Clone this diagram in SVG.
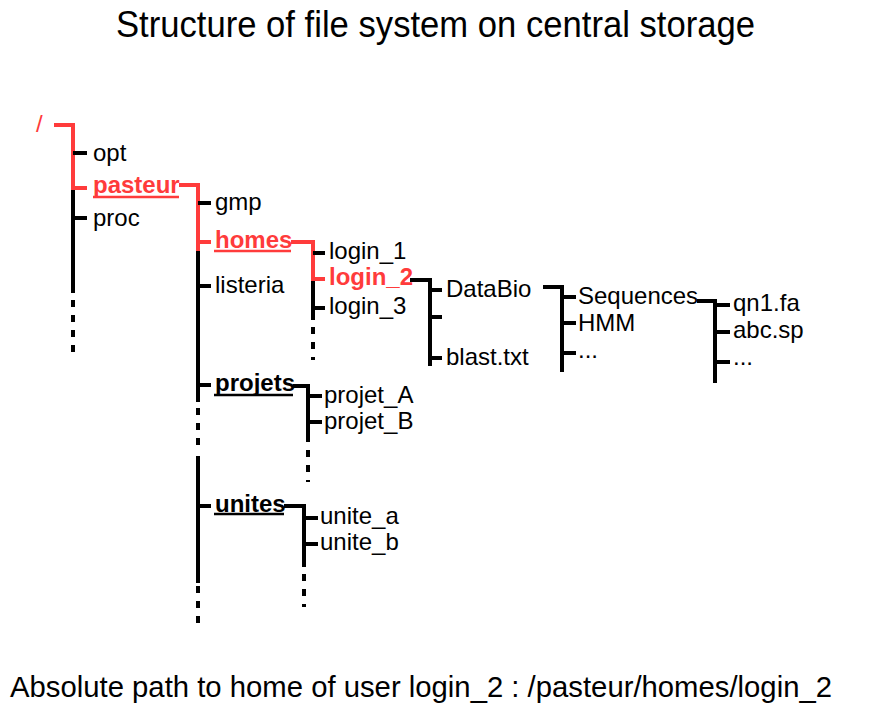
<svg xmlns="http://www.w3.org/2000/svg" width="874" height="709" viewBox="0 0 874 709">
<style>
text{font-family:"Liberation Sans",Arial,sans-serif;font-size:24px;fill:#000}
.b{font-weight:bold}
.r{fill:#ff3b3b}
.t{font-size:37px}
.f{font-size:30px}
.k{stroke:#000;stroke-width:4;fill:none}
.rd{stroke:#ff3b3b;stroke-width:4;fill:none}
.d{stroke:#000;stroke-width:4;fill:none;stroke-dasharray:7 8}
.u{stroke:#000;stroke-width:2.4}
.ur{stroke:#ff3b3b;stroke-width:2.4}
</style>
<rect width="874" height="709" fill="#fff"/>
<g id="title"><text class="t" x="116" y="37" textLength="639" lengthAdjust="spacingAndGlyphs">Structure of file system on central storage</text></g>
<g id="connectors">
<!-- root -->
<polyline class="rd" points="54,125 73,125 73,191"/>
<line class="k" x1="73" y1="190" x2="73" y2="293"/>
<line class="d" x1="73" y1="300" x2="73" y2="353"/>
<line class="k" x1="73" y1="153" x2="87" y2="153"/>
<line class="rd" x1="73" y1="188" x2="87" y2="188"/>
<line class="k" x1="73" y1="218" x2="87" y2="218"/>
<!-- pasteur -->
<polyline class="rd" points="179,185 198,185 198,252"/>
<line class="k" x1="198" y1="251" x2="198" y2="402"/>
<line class="d" x1="198" y1="408" x2="198" y2="448"/>
<line class="k" x1="198" y1="456" x2="198" y2="583"/>
<line class="d" x1="198" y1="586" x2="198" y2="624"/>
<line class="k" x1="198" y1="203" x2="211" y2="203"/>
<line class="rd" x1="198" y1="242" x2="211" y2="242"/>
<line class="k" x1="198" y1="286" x2="211" y2="286"/>
<line class="k" x1="198" y1="385" x2="211" y2="385"/>
<line class="k" x1="198" y1="506" x2="211" y2="506"/>
<!-- homes -->
<polyline class="rd" points="291,242 313,242 313,282"/>
<line class="k" x1="313" y1="281" x2="313" y2="320"/>
<line class="d" x1="313" y1="327" x2="313" y2="360"/>
<line class="k" x1="313" y1="253" x2="325" y2="253"/>
<line class="rd" x1="313" y1="279" x2="325" y2="279"/>
<line class="k" x1="313" y1="308" x2="325" y2="308"/>
<!-- login_2 -->
<polyline class="k" points="410,280 430,280 430,366"/>
<line class="k" x1="430" y1="290" x2="442" y2="290"/>
<line class="k" x1="430" y1="317" x2="442" y2="317"/>
<line class="k" x1="430" y1="358" x2="442" y2="358"/>
<!-- DataBio -->
<polyline class="k" points="543,287 562,287 562,372"/>
<line class="k" x1="562" y1="297" x2="576" y2="297"/>
<line class="k" x1="562" y1="323" x2="576" y2="323"/>
<line class="k" x1="562" y1="353" x2="576" y2="353"/>
<!-- Sequences -->
<polyline class="k" points="697,301 715,301 715,383"/>
<line class="k" x1="715" y1="305" x2="730" y2="305"/>
<line class="k" x1="715" y1="332" x2="730" y2="332"/>
<line class="k" x1="715" y1="362" x2="730" y2="362"/>
<!-- projets -->
<polyline class="k" points="293,386 308,386 308,442"/>
<line class="d" x1="308" y1="450" x2="308" y2="482"/>
<line class="k" x1="308" y1="396" x2="322" y2="396"/>
<line class="k" x1="308" y1="422" x2="322" y2="422"/>
<!-- unites -->
<polyline class="k" points="284,506 304,506 304,567"/>
<line class="d" x1="304" y1="574" x2="304" y2="607"/>
<line class="k" x1="304" y1="518" x2="318" y2="518"/>
<line class="k" x1="304" y1="544" x2="318" y2="544"/>
</g>
<g id="root"><text class="r" x="36" y="132">/</text></g>
<g id="opt"><text x="93" y="161">opt</text></g>
<g id="pasteur"><text class="b r" x="93" y="193">pasteur</text><line class="ur" x1="93" y1="197" x2="179" y2="197"/></g>
<g id="proc"><text x="93" y="226">proc</text></g>
<g id="gmp"><text x="215" y="210">gmp</text></g>
<g id="homes"><text class="b r" x="215" y="248">homes</text><line class="ur" x1="214" y1="251" x2="291" y2="251"/></g>
<g id="listeria"><text x="215" y="293">listeria</text></g>
<g id="projets"><text class="b" x="215" y="391">projets</text><line class="u" x1="214" y1="395" x2="293" y2="395"/></g>
<g id="unites"><text class="b" x="215" y="512">unites</text><line class="u" x1="214" y1="514" x2="284" y2="514"/></g>
<g id="login_1"><text x="329" y="259">login_1</text></g>
<g id="login_2"><text class="b r" x="329" y="285">login_2</text></g>
<g id="login_3"><text x="329" y="314">login_3</text></g>
<g id="DataBio"><text x="446" y="297">DataBio</text></g>
<g id="blast"><text x="446" y="365">blast.txt</text></g>
<g id="Sequences"><text x="578" y="304">Sequences</text></g>
<g id="HMM"><text x="578" y="331">HMM</text></g>
<g id="etc1"><text x="578" y="358">...</text></g>
<g id="qn1"><text x="733" y="311">qn1.fa</text></g>
<g id="abc"><text x="733" y="338">abc.sp</text></g>
<g id="etc2"><text x="733" y="365">...</text></g>
<g id="projet_A"><text x="324" y="403">projet_A</text></g>
<g id="projet_B"><text x="324" y="429">projet_B</text></g>
<g id="unite_a"><text x="320" y="524">unite_a</text></g>
<g id="unite_b"><text x="320" y="550">unite_b</text></g>
<g id="footer"><text class="f" x="10" y="697" textLength="822" lengthAdjust="spacingAndGlyphs">Absolute path to home of user login_2 : /pasteur/homes/login_2</text></g>
</svg>
